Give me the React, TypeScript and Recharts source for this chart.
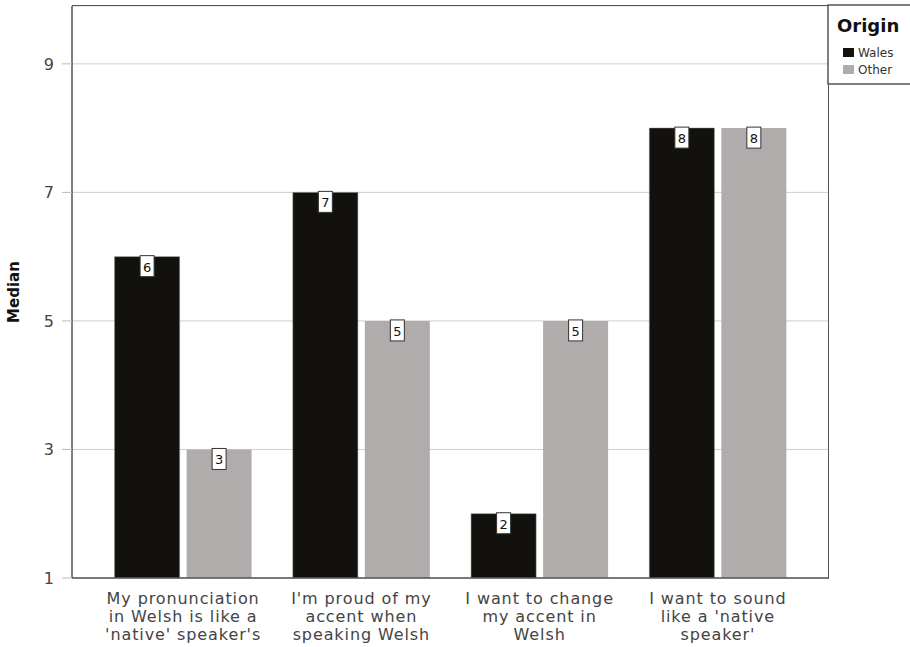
import { BarChart, Bar, XAxis, YAxis, CartesianGrid, LabelList, Label } from 'recharts'

const categories = [
  "My pronunciation|in Welsh is like a|'native' speaker's",
  "I'm proud of my|accent when|speaking Welsh",
  'I want to change|my accent in|Welsh',
  "I want to sound|like a 'native|speaker'",
]
const walesValues = [6, 7, 2, 8]
const otherValues = [3, 5, 5, 8]
const yTicks = [1, 3, 5, 7, 9]
const legendItems = ['Wales', 'Other'] as const

const COLORS = {
  Wales: '#12110e',
  Other: '#b0acab',
}

const FONT = '"DejaVu Sans", Verdana, sans-serif'

const data = categories.map((name, i) => ({
  name,
  Wales: walesValues[i],
  Other: otherValues[i],
}))

// multi-line category label under the x axis
function CategoryTick({ x, y, payload }: any) {
  const lines = String(payload.value).split('|')
  return (
    <text x={x} y={y} textAnchor="middle" fill="#444" fontSize={16} letterSpacing={0.9} fontFamily={FONT}>
      {lines.map((l, i) => (
        <tspan key={i} x={x} dy={i === 0 ? 18 : 18}>{l}</tspan>
      ))}
    </text>
  )
}

// small boxed number sitting on top of each bar
function ValueBox({ x, y, width, value }: any) {
  const cx = x + width / 2
  return (
    <g>
      <rect x={cx - 7} y={y - 1} width={14} height={21} fill="#fff" stroke="#333" strokeWidth={1} />
      <text x={cx} y={y + 15} textAnchor="middle" fontSize={13} fontFamily={FONT} fill="#111">{value}</text>
    </g>
  )
}

function LegendBox() {
  return (
    <svg width={910} height={100} style={{ position: 'absolute', left: 0, top: 0, pointerEvents: 'none' }}>
      <rect x={828} y={5} width={90} height={79} fill="#fff" stroke="#555" strokeWidth={1.5} />
      <text x={837} y={32} fontSize={18} fontWeight="bold" fontFamily={FONT} fill="#111">Origin</text>
      {legendItems.map((k, i) => (
        <g key={k}>
          <rect x={843} y={48 + i * 17} width={11} height={9} fill={COLORS[k]} />
          <text x={858} y={57 + i * 17} fontSize={12} fontFamily={FONT} fill="#333">{k}</text>
        </g>
      ))}
    </svg>
  )
}

export default function App() {
  return (
    <div style={{ position: 'absolute', left: 0, top: 0, width: 910, height: 647, background: '#fff' }}>
      <BarChart
        width={910}
        height={647}
        data={data}
        margin={{ top: 6, right: 82, bottom: 4, left: 0 }}
        barCategoryGap={20.6}
        barGap={7}
      >
        <CartesianGrid vertical={false} stroke="#cfcfcf" />
        <XAxis
          dataKey="name"
          height={65}
          padding={{ left: 22, right: 21 }}
          tick={<CategoryTick />}
          tickLine={false}
          axisLine={{ stroke: '#555', strokeWidth: 1.5 }}
          interval={0}
        />
        <YAxis
          type="number"
          domain={[1, 9.9]}
          ticks={yTicks}
          width={72}
          tickSize={10}
          tickMargin={8}
          tick={{ fill: '#444', fontSize: 16, fontFamily: FONT }}
          tickLine={{ stroke: '#bbb' }}
          axisLine={{ stroke: '#555', strokeWidth: 1.5 }}
          allowDataOverflow
        >
          <Label
            content={({ viewBox }: any) => {
              const cy = viewBox.y + viewBox.height / 2
              return (
                <text x={19} y={cy} transform={`rotate(-90 19 ${cy})`} textAnchor="middle" fontSize={15} fontWeight="bold" fontFamily={FONT} fill="#111">
                  Median
                </text>
              )
            }}
          />
        </YAxis>
        <Bar dataKey="Wales" fill={COLORS.Wales} stroke="#777" strokeWidth={0.5} isAnimationActive={false}>
          <LabelList dataKey="Wales" content={<ValueBox />} />
        </Bar>
        <Bar dataKey="Other" fill={COLORS.Other} isAnimationActive={false}>
          <LabelList dataKey="Other" content={<ValueBox />} />
        </Bar>
      </BarChart>
      {/* plot frame (top and right edges) */}
      <div style={{ position: 'absolute', left: 72, top: 5, width: 757, height: 574, borderTop: '1.5px solid #555', borderRight: '1.5px solid #555', boxSizing: 'border-box', pointerEvents: 'none' }} />
      <LegendBox />
    </div>
  )
}
